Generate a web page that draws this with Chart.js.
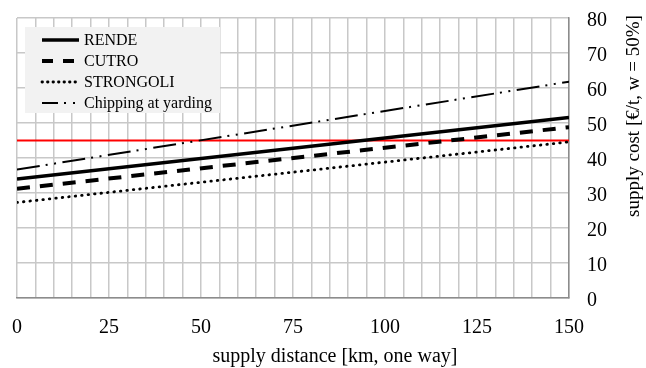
<!DOCTYPE html>
<html>
<head>
<meta charset="utf-8">
<script src="https://cdn.jsdelivr.net/npm/chart.js@4"></script>
<style>
  html, body { margin: 0; padding: 0; background: #fff; }
  #wrap { width: 646px; height: 368px; }
</style>
</head>
<body>
<div id="wrap"><canvas id="chart"></canvas></div>
<script>
// values
const distances = [0, 150];
const rende = [34.0, 51.6];
const cutro = [31.2, 48.8];
const strongoli = [27.3, 44.6];
const chipping = [36.7, 61.8];
const threshold = [45, 45];
const xTickLabels = [0, 25, 50, 75, 100, 125, 150];
const xTitle = 'supply distance [km, one way]';
const yTitle = 'supply cost [€/t, w = 50%]';

const FONT = '"Liberation Serif", "Times New Roman", serif';

const toPoints = (ys) => distances.map((d, i) => ({ x: d, y: ys[i] }));

// legend box drawn inside the plot, plus the two axis titles
const extras = {
  id: 'extras',
  afterDraw(chart) {
    const ctx = chart.ctx;
    ctx.save();
    ctx.fillStyle = '#f2f2f2';
    ctx.fillRect(25, 27, 195, 86);
    ctx.font = '16px ' + FONT;
    ctx.textBaseline = 'middle';
    ctx.textAlign = 'left';
    let y = 40;
    chart.data.datasets.forEach((ds) => {
      if (ds.hideInLegend) return;
      ctx.beginPath();
      ctx.strokeStyle = ds.borderColor;
      ctx.lineWidth = ds.borderWidth;
      ctx.lineCap = ds.borderCapStyle || 'butt';
      ctx.setLineDash(ds.legendDash || ds.borderDash || []);
      ctx.moveTo(42, y);
      ctx.lineTo(79, y);
      ctx.stroke();
      ctx.setLineDash([]);
      ctx.fillStyle = '#000';
      ctx.fillText(ds.label, 84, y + 1);
      y += 21;
    });

    ctx.fillStyle = '#000';
    ctx.font = '20px ' + FONT;
    ctx.textAlign = 'center';
    ctx.textBaseline = 'alphabetic';
    ctx.fillText(xTitle, 335, 362);

    ctx.font = '19px ' + FONT;
    ctx.translate(634, 116);
    ctx.rotate(-Math.PI / 2);
    ctx.textBaseline = 'middle';
    ctx.fillText(yTitle, 0, 0);
    ctx.restore();
  }
};

new Chart(document.getElementById('chart'), {
  type: 'line',
  data: {
    datasets: [
      {
        label: 'RENDE',
        data: toPoints(rende),
        borderColor: '#000',
        borderWidth: 3.5,
      },
      {
        label: 'CUTRO',
        data: toPoints(cutro),
        borderColor: '#000',
        borderWidth: 4,
        borderDash: [13, 10],
        legendDash: [11, 10],
      },
      {
        label: 'STRONGOLI',
        data: toPoints(strongoli),
        borderColor: '#000',
        borderWidth: 2.8,
        borderDash: [0.5, 6],
        legendDash: [0.5, 5],
        borderCapStyle: 'round',
      },
      {
        label: 'Chipping at yarding',
        data: toPoints(chipping),
        borderColor: '#000',
        borderWidth: 2,
        borderDash: [23, 6, 2, 6.5, 2, 6.5],
        legendDash: [16, 6, 2, 7, 2, 7],
      },
      {
        label: 'threshold',
        data: toPoints(threshold),
        borderColor: '#ff0000',
        borderWidth: 2,
        hideInLegend: true,
      },
    ],
  },
  options: {
    responsive: true,
    maintainAspectRatio: false,
    animation: false,
    elements: { point: { radius: 0 }, line: { tension: 0 } },
    layout: { padding: { top: 18, left: 17, right: 0, bottom: 0 } },
    plugins: {
      legend: { display: false },
      tooltip: { enabled: false },
    },
    scales: {
      x: {
        type: 'linear',
        min: 0,
        max: 150,
        grid: { color: '#c8c8c8', lineWidth: 1.5, drawTicks: false },
        border: { color: '#8c8c8c', width: 1.5 },
        ticks: {
          stepSize: 5,
          autoSkip: false,
          maxRotation: 0,
          padding: 17.5,
          color: '#000',
          font: { family: FONT, size: 20 },
          callback: (v) => (xTickLabels.includes(v) ? String(v) : ''),
        },
        afterFit: (s) => {
          s.height = 70;
          s.paddingLeft = 0;
          s.paddingRight = 0;
        },
      },
      y: {
        position: 'right',
        min: 0,
        max: 80,
        grid: { color: '#c8c8c8', lineWidth: 1.5, drawTicks: false },
        border: { color: '#8c8c8c', width: 1.5 },
        ticks: {
          stepSize: 10,
          padding: 18,
          labelOffset: 3,
          color: '#000',
          font: { family: FONT, size: 20 },
        },
        afterFit: (s) => {
          s.width = 77;
          s.paddingTop = 0;
          s.paddingBottom = 0;
        },
      },
    },
  },
  plugins: [extras],
});
</script>
</body>
</html>
